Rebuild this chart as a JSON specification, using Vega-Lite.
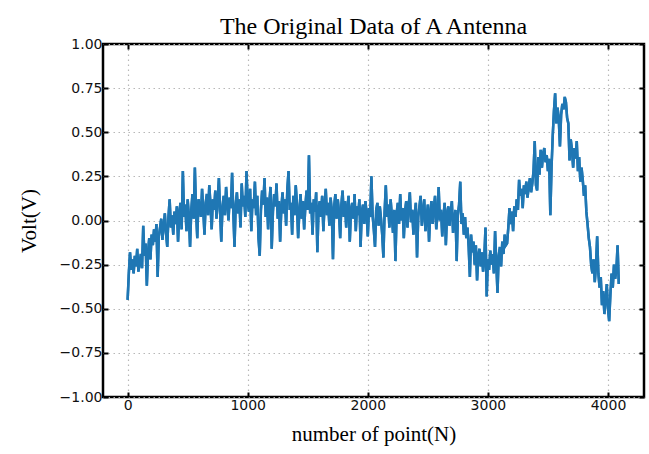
{
  "$schema": "https://vega.github.io/schema/vega-lite/v6.json",
  "width": 541,
  "height": 353,
  "autosize": {"type": "none"},
  "padding": {"left": 103, "top": 44, "right": 5, "bottom": 57},
  "background": "white",
  "title": {"text": "The Original Data of A Antenna", "font": "Liberation Serif", "fontSize": 24, "fontWeight": "normal", "color": "black", "offset": -2},
  "config": {
    "view": {"stroke": "black", "strokeWidth": 2.5},
    "axis": {"labelFont": "DejaVu Sans", "labelFontSize": 14, "labelColor": "#111", "titleFont": "Liberation Serif", "titleFontSize": 21, "titleFontWeight": "normal", "titleColor": "black", "domain": false, "tickColor": "black", "tickWidth": 2, "tickSize": -5, "gridColor": "#b8b8b8", "gridDash": [1.5, 3.5], "gridWidth": 1.2}
  },
  "data": {"values": [
{"n":0,"v":-0.45},{"n":10,"v":-0.30},{"n":20,"v":-0.18},{"n":30,"v":-0.28},{"n":40,"v":-0.22},{"n":50,"v":-0.30},{"n":60,"v":-0.20},{"n":70,"v":-0.26},{"n":80,"v":-0.16},{"n":90,"v":-0.29},{"n":100,"v":-0.24},{"n":110,"v":-0.19},{"n":120,"v":-0.27},{"n":130,"v":-0.03},{"n":140,"v":-0.20},{"n":150,"v":-0.13},{"n":160,"v":-0.37},{"n":170,"v":-0.18},{"n":180,"v":-0.10},{"n":190,"v":-0.22},{"n":200,"v":-0.08},
{"n":210,"v":-0.14},{"n":220,"v":-0.05},{"n":230,"v":-0.12},{"n":240,"v":-0.02},{"n":250,"v":-0.32},{"n":260,"v":-0.09},{"n":270,"v":-0.04},{"n":280,"v":0.01},{"n":290,"v":-0.11},{"n":300,"v":-0.03},{"n":310,"v":0.04},{"n":320,"v":-0.07},{"n":330,"v":-0.15},{"n":340,"v":0.02},{"n":350,"v":0.12},{"n":360,"v":-0.04},{"n":370,"v":0.03},{"n":380,"v":-0.08},{"n":390,"v":0.05},{"n":400,"v":-0.02},{"n":410,"v":0.08},{"n":420,"v":-0.12},{"n":430,"v":0.04},{"n":440,"v":0.10},{"n":450,"v":-0.05},{"n":460,"v":0.28},{"n":470,"v":0.02},{"n":480,"v":0.09},{"n":490,"v":-0.06},{"n":500,"v":0.12},{"n":510,"v":0.03},{"n":520,"v":-0.15},{"n":530,"v":0.06},{"n":540,"v":0.15},{"n":550,"v":0.01},{"n":560,"v":0.30},{"n":570,"v":0.05},{"n":580,"v":-0.10},{"n":590,"v":0.12},{"n":600,"v":0.08},
{"n":610,"v":0.02},{"n":620,"v":0.18},{"n":630,"v":0.06},{"n":640,"v":-0.08},{"n":650,"v":0.10},{"n":660,"v":0.15},{"n":670,"v":0.03},{"n":680,"v":0.20},{"n":690,"v":0.09},{"n":700,"v":-0.05},{"n":710,"v":0.12},{"n":720,"v":0.06},{"n":730,"v":0.17},{"n":740,"v":0.01},{"n":750,"v":0.11},{"n":760,"v":0.24},{"n":770,"v":0.05},{"n":780,"v":-0.12},{"n":790,"v":0.08},{"n":800,"v":0.14},{"n":810,"v":0.03},{"n":820,"v":0.19},{"n":830,"v":0.10},{"n":840,"v":0.00},{"n":850,"v":0.13},{"n":860,"v":0.07},{"n":870,"v":0.27},{"n":880,"v":0.05},{"n":890,"v":-0.15},{"n":900,"v":0.09},{"n":910,"v":0.16},{"n":920,"v":0.04},{"n":930,"v":0.12},{"n":940,"v":-0.04},{"n":950,"v":0.21},{"n":960,"v":0.08},{"n":970,"v":0.14},{"n":980,"v":0.02},{"n":990,"v":0.28},{"n":1000,"v":0.10},
{"n":1010,"v":0.05},{"n":1020,"v":0.18},{"n":1030,"v":-0.06},{"n":1040,"v":0.12},{"n":1050,"v":0.07},{"n":1060,"v":0.22},{"n":1070,"v":0.03},{"n":1080,"v":0.14},{"n":1090,"v":-0.10},{"n":1100,"v":-0.20},{"n":1110,"v":0.06},{"n":1120,"v":0.17},{"n":1130,"v":0.09},{"n":1140,"v":0.24},{"n":1150,"v":0.02},{"n":1160,"v":0.13},{"n":1170,"v":-0.05},{"n":1180,"v":0.10},{"n":1190,"v":0.19},{"n":1200,"v":-0.16},{"n":1210,"v":0.05},{"n":1220,"v":0.15},{"n":1230,"v":0.08},{"n":1240,"v":0.21},{"n":1250,"v":0.01},{"n":1260,"v":0.11},{"n":1270,"v":-0.12},{"n":1280,"v":0.07},{"n":1290,"v":0.16},{"n":1300,"v":0.04},{"n":1310,"v":0.12},{"n":1320,"v":-0.03},{"n":1330,"v":0.18},{"n":1340,"v":0.28},{"n":1350,"v":0.06},{"n":1360,"v":0.10},{"n":1370,"v":-0.08},{"n":1380,"v":0.14},{"n":1390,"v":0.03},{"n":1400,"v":0.20},{"n":1410,"v":0.09},{"n":1420,"v":-0.10},{"n":1430,"v":0.05},{"n":1440,"v":0.15},{"n":1450,"v":0.01},{"n":1460,"v":0.11},{"n":1470,"v":-0.05},{"n":1480,"v":0.08},{"n":1490,"v":0.17},{"n":1500,"v":0.06},{"n":1510,"v":0.37},{"n":1520,"v":0.04},
{"n":1530,"v":0.10},{"n":1540,"v":-0.08},{"n":1550,"v":0.12},{"n":1560,"v":0.05},{"n":1570,"v":0.16},{"n":1580,"v":-0.18},{"n":1590,"v":0.07},{"n":1600,"v":0.11},{"n":1610,"v":0.02},{"n":1620,"v":0.14},{"n":1630,"v":-0.06},{"n":1640,"v":0.09},{"n":1650,"v":0.18},{"n":1660,"v":0.03},{"n":1670,"v":0.10},{"n":1680,"v":-0.03},{"n":1690,"v":0.13},{"n":1700,"v":0.06},{"n":1710,"v":-0.22},{"n":1720,"v":0.08},{"n":1730,"v":0.15},{"n":1740,"v":0.01},{"n":1750,"v":0.12},{"n":1760,"v":0.05},{"n":1770,"v":-0.10},{"n":1780,"v":0.09},{"n":1790,"v":0.17},{"n":1800,"v":0.02},{"n":1810,"v":0.11},{"n":1820,"v":-0.04},{"n":1830,"v":0.07},{"n":1840,"v":0.14},{"n":1850,"v":-0.12},{"n":1860,"v":0.06},{"n":1870,"v":0.10},{"n":1880,"v":0.01},{"n":1890,"v":0.15},{"n":1900,"v":-0.06},{"n":1910,"v":0.08},{"n":1920,"v":0.03},{"n":1930,"v":0.12},{"n":1940,"v":-0.15},{"n":1950,"v":0.05},{"n":1960,"v":0.09},{"n":1970,"v":-0.02},{"n":1980,"v":0.11},{"n":1990,"v":0.04},{"n":2000,"v":-0.09},
{"n":2010,"v":0.07},{"n":2020,"v":0.02},{"n":2030,"v":0.25},{"n":2040,"v":0.03},{"n":2050,"v":-0.05},{"n":2060,"v":-0.15},{"n":2070,"v":0.06},{"n":2080,"v":0.10},{"n":2090,"v":-0.03},{"n":2100,"v":0.08},{"n":2110,"v":0.01},{"n":2120,"v":-0.08},{"n":2130,"v":-0.21},{"n":2140,"v":0.05},{"n":2150,"v":0.20},{"n":2160,"v":0.02},{"n":2170,"v":0.09},{"n":2180,"v":-0.04},{"n":2190,"v":0.12},{"n":2200,"v":0.03},{"n":2210,"v":-0.07},{"n":2220,"v":0.06},{"n":2230,"v":-0.23},{"n":2240,"v":0.04},{"n":2250,"v":0.10},{"n":2260,"v":-0.02},{"n":2270,"v":0.15},{"n":2280,"v":0.00},{"n":2290,"v":0.07},{"n":2300,"v":-0.10},{"n":2310,"v":0.05},{"n":2320,"v":0.11},{"n":2330,"v":-0.04},{"n":2340,"v":0.08},{"n":2350,"v":0.16},{"n":2360,"v":-0.01},{"n":2370,"v":0.06},{"n":2380,"v":-0.08},{"n":2390,"v":0.03},{"n":2400,"v":0.10},{"n":2410,"v":-0.21},{"n":2420,"v":0.02},{"n":2430,"v":0.08},{"n":2440,"v":0.14},{"n":2450,"v":-0.03},{"n":2460,"v":0.05},{"n":2470,"v":0.12},{"n":2480,"v":-0.06},{"n":2490,"v":0.01},{"n":2500,"v":0.09},
{"n":2510,"v":-0.12},{"n":2520,"v":0.04},{"n":2530,"v":0.11},{"n":2540,"v":-0.02},{"n":2550,"v":0.07},{"n":2560,"v":0.14},{"n":2570,"v":-0.05},{"n":2580,"v":0.03},{"n":2590,"v":0.19},{"n":2600,"v":0.00},{"n":2610,"v":0.06},{"n":2620,"v":-0.09},{"n":2630,"v":0.02},{"n":2640,"v":0.10},{"n":2650,"v":-0.14},{"n":2660,"v":0.04},{"n":2670,"v":0.08},{"n":2680,"v":-0.03},{"n":2690,"v":0.05},{"n":2700,"v":0.11},{"n":2710,"v":-0.07},{"n":2720,"v":0.01},{"n":2730,"v":0.06},{"n":2740,"v":-0.23},{"n":2750,"v":0.03},{"n":2760,"v":0.09},{"n":2770,"v":0.22},{"n":2780,"v":-0.02},{"n":2790,"v":0.04},{"n":2800,"v":-0.08},
{"n":2810,"v":0.02},{"n":2820,"v":-0.10},{"n":2830,"v":-0.04},{"n":2840,"v":-0.15},{"n":2850,"v":-0.32},{"n":2860,"v":-0.08},{"n":2870,"v":-0.18},{"n":2880,"v":-0.12},{"n":2890,"v":-0.25},{"n":2900,"v":-0.14},{"n":2910,"v":-0.34},{"n":2920,"v":-0.20},{"n":2930,"v":-0.16},{"n":2940,"v":-0.26},{"n":2950,"v":-0.18},{"n":2960,"v":-0.29},{"n":2970,"v":-0.21},{"n":2980,"v":-0.04},{"n":2990,"v":-0.43},{"n":3000,"v":-0.22},{"n":3010,"v":-0.28},{"n":3020,"v":-0.17},{"n":3030,"v":-0.25},{"n":3040,"v":-0.19},{"n":3050,"v":-0.30},{"n":3060,"v":-0.06},{"n":3070,"v":-0.24},{"n":3080,"v":-0.41},{"n":3090,"v":-0.20},{"n":3100,"v":-0.15},{"n":3110,"v":-0.26},{"n":3120,"v":-0.12},{"n":3130,"v":-0.19},{"n":3140,"v":-0.08},{"n":3150,"v":-0.14},
{"n":3160,"v":-0.13},{"n":3170,"v":-0.04},{"n":3180,"v":0.07},{"n":3190,"v":-0.02},{"n":3200,"v":0.05},{"n":3210,"v":-0.06},{"n":3220,"v":0.08},{"n":3230,"v":0.02},{"n":3240,"v":0.12},{"n":3250,"v":0.06},{"n":3260,"v":0.23},{"n":3270,"v":0.14},{"n":3280,"v":0.18},{"n":3290,"v":0.07},{"n":3300,"v":0.20},{"n":3310,"v":0.15},{"n":3320,"v":0.22},{"n":3330,"v":0.13},{"n":3340,"v":0.19},{"n":3350,"v":0.24},{"n":3360,"v":0.16},{"n":3370,"v":0.21},{"n":3380,"v":0.28},{"n":3390,"v":0.45},{"n":3400,"v":0.20},{"n":3410,"v":0.17},{"n":3420,"v":0.36},{"n":3430,"v":0.26},{"n":3440,"v":0.40},{"n":3450,"v":0.30},{"n":3460,"v":0.38},{"n":3470,"v":0.41},{"n":3480,"v":0.33},{"n":3490,"v":0.37},{"n":3500,"v":0.28},
{"n":3510,"v":0.35},{"n":3520,"v":0.03},{"n":3530,"v":0.30},{"n":3540,"v":0.48},{"n":3550,"v":0.62},{"n":3560,"v":0.72},{"n":3570,"v":0.55},{"n":3580,"v":0.64},{"n":3590,"v":0.58},{"n":3600,"v":0.42},{"n":3610,"v":0.60},{"n":3620,"v":0.66},{"n":3630,"v":0.63},{"n":3640,"v":0.70},{"n":3650,"v":0.67},{"n":3660,"v":0.58},{"n":3670,"v":0.55},{"n":3680,"v":0.34},{"n":3690,"v":0.46},{"n":3700,"v":0.40},
{"n":3710,"v":0.30},{"n":3720,"v":0.41},{"n":3730,"v":0.35},{"n":3740,"v":0.45},{"n":3750,"v":0.28},{"n":3760,"v":0.36},{"n":3770,"v":0.22},{"n":3780,"v":0.30},{"n":3790,"v":0.23},{"n":3800,"v":0.14},{"n":3810,"v":0.20},{"n":3820,"v":0.05},{"n":3830,"v":-0.02},{"n":3840,"v":-0.10},{"n":3850,"v":-0.15},{"n":3860,"v":-0.25},{"n":3870,"v":-0.30},{"n":3880,"v":-0.22},{"n":3890,"v":-0.35},{"n":3900,"v":-0.26},{"n":3910,"v":-0.09},{"n":3920,"v":-0.30},{"n":3930,"v":-0.38},{"n":3940,"v":-0.32},{"n":3950,"v":-0.48},
{"n":3960,"v":-0.40},{"n":3970,"v":-0.53},{"n":3980,"v":-0.45},{"n":3990,"v":-0.36},{"n":4000,"v":-0.50},{"n":4010,"v":-0.57},{"n":4020,"v":-0.42},{"n":4030,"v":-0.30},{"n":4040,"v":-0.38},{"n":4050,"v":-0.25},{"n":4060,"v":-0.33},{"n":4070,"v":-0.28},{"n":4080,"v":-0.14},{"n":4090,"v":-0.36}
  ]},
  "resolve": {"axis": {"x": "independent", "y": "independent"}},
  "layer": [
    {
      "mark": {"type": "line", "color": "#1f77b4", "strokeWidth": 2.5},
      "encoding": {
        "x": {"field": "n", "type": "quantitative", "scale": {"domain": [-205, 4300], "nice": false, "zero": false},
              "axis": {"orient": "bottom", "values": [0, 1000, 2000, 3000, 4000], "format": "d", "title": "number of point(N)", "labelPadding": 6, "titlePadding": 11}},
        "y": {"field": "v", "type": "quantitative", "scale": {"domain": [-1, 1], "nice": false},
              "axis": {"orient": "left", "values": [-1, -0.75, -0.5, -0.25, 0, 0.25, 0.5, 0.75, 1], "format": ".2f", "title": "Volt(V)", "labelPadding": 6, "titlePadding": 20}}
      }
    },
    {
      "mark": {"type": "line", "color": "#1f77b4", "strokeWidth": 2.5},
      "encoding": {
        "x": {"field": "n", "type": "quantitative", "axis": {"orient": "top", "values": [0, 1000, 2000, 3000, 4000], "labels": false, "grid": false, "title": null}},
        "y": {"field": "v", "type": "quantitative", "axis": {"orient": "right", "values": [-1, -0.75, -0.5, -0.25, 0, 0.25, 0.5, 0.75, 1], "labels": false, "grid": false, "title": null}}
      }
    }
  ]
}
